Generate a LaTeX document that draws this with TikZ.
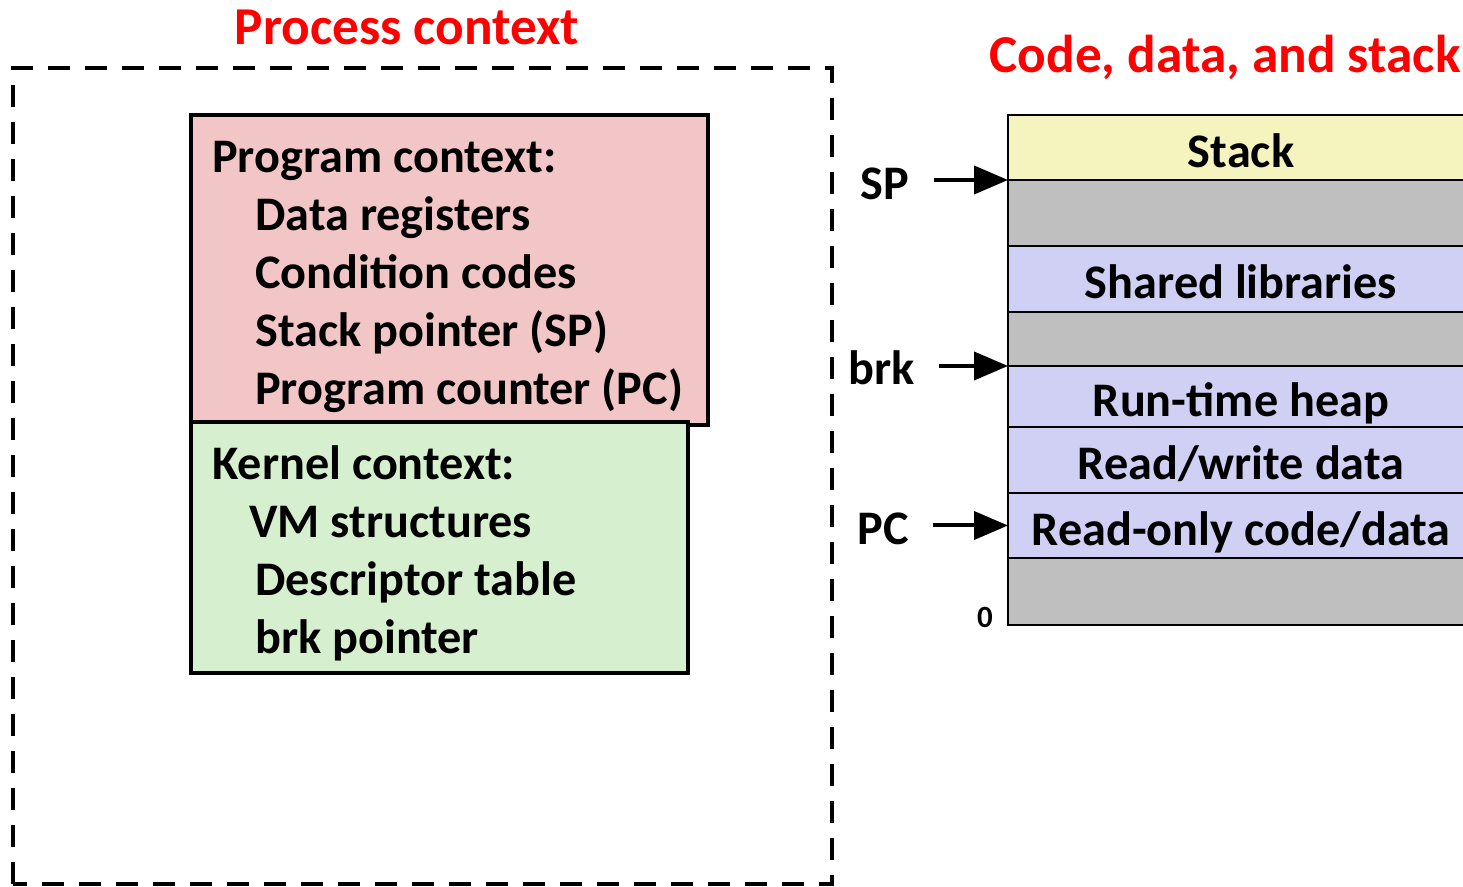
\documentclass[tikz,border=0pt]{standalone}
\usepackage{fontspec}
\setmainfont{Carlito}
\usetikzlibrary{arrows.meta}

\definecolor{progfill}{HTML}{F2C6C6}
\definecolor{kernfill}{HTML}{D5EFCF}
\definecolor{stackfill}{HTML}{F5F3BE}
\definecolor{segfill}{HTML}{CFD0F3}
\definecolor{gapfill}{HTML}{BFBFBF}
\definecolor{titlered}{HTML}{FF0000}

\begin{document}
\begin{tikzpicture}

	\tikzset{txt/.style={font=\fontsize{34.3pt}{41pt}\selectfont\bfseries, inner sep=0pt}}
	\tikzset{title/.style={font=\fontsize{37.9pt}{44pt}\selectfont\bfseries, text=titlered, inner sep=0pt}}
	\tikzset{seg/.style={draw, line width=0.05cm, minimum width=11.65cm, inner sep=0pt, outer sep=0pt, txt, text height=0.98cm, text depth=0cm}}
	\tikzset{ptr/.style={line width=0.1cm, -{Triangle[length=0.85cm,width=0.7cm]}}}

	\useasboundingbox (0,0) rectangle (36.575,22.175);

	% process context
	\draw[line width=0.11cm, dash pattern=on 0.55cm off 0.375cm] (0.325,0.075) rectangle (20.8,20.475);
	\node[title] (ptitle) at (10.175,21.5) {Process context};

	\draw[line width=0.1cm, fill=progfill] (4.775,11.55) rectangle (17.7,19.3);
	\draw[line width=0.1cm, fill=kernfill] (4.775,5.35) rectangle (17.2,11.625);

	\node[txt, anchor=base west] (prog0) at (5.3,17.85) {Program context:};
	\node[txt, anchor=base west] (prog1) at (6.375,16.4) {Data registers};
	\node[txt, anchor=base west] (prog2) at (6.375,14.95) {Condition codes};
	\node[txt, anchor=base west] (prog3) at (6.375,13.5) {Stack pointer (SP)};
	\node[txt, anchor=base west] (prog4) at (6.375,12.05) {Program counter (PC)};

	\node[txt, anchor=base west] (kern0) at (5.3,10.175) {Kernel context:};
	\node[txt, anchor=base west] (kern1) at (6.225,8.725) {VM structures};
	\node[txt, anchor=base west] (kern2) at (6.375,7.275) {Descriptor table};
	\node[txt, anchor=base west] (kern3) at (6.375,5.825) {brk pointer};

	% code, data, and stack
	\node[title] (ctitle) at (30.625,20.75) {Code, data, and stack};

	\node[seg, fill=stackfill, minimum height=1.625cm] (stack) at (31.025,18.4875) {Stack};
	\node[seg, fill=gapfill, minimum height=1.65cm] (gap1) at (31.025,16.85) {};
	\node[seg, fill=segfill, minimum height=1.65cm] (shlib) at (31.025,15.2) {Shared libraries};
	\node[seg, fill=gapfill, minimum height=1.35cm] (gap2) at (31.025,13.7) {};
	\node[seg, fill=segfill, minimum height=1.525cm] (heap) at (31.025,12.2625) {Run-time heap};
	\node[seg, fill=segfill, minimum height=1.65cm] (rwdata) at (31.025,10.675) {Read/write data};
	\node[seg, fill=segfill, minimum height=1.625cm] (rodata) at (31.025,9.0375) {Read-only code/data};
	\node[seg, fill=gapfill, minimum height=1.675cm] (gap3) at (31.025,7.3875) {};

	\node[txt, anchor=base, inner xsep=0.6cm] (sp) at (22.125,17.175) {SP};
	\node[txt, anchor=base, inner xsep=0.6cm] (brk) at (22.05,12.55) {brk};
	\node[txt, anchor=base, inner xsep=0.6cm] (pc) at (22.075,8.55) {PC};
	\node[font=\fontsize{22pt}{24pt}\selectfont\bfseries] (zero) at (24.625,6.75) {0};

	\draw[ptr] (sp.east |- gap1.north west) -- (gap1.north west);
	\draw[ptr] (brk.east |- heap.north west) -- (heap.north west);
	\draw[ptr] (pc.east |- rodata.west) -- (rodata.west);

\end{tikzpicture}
\end{document}
